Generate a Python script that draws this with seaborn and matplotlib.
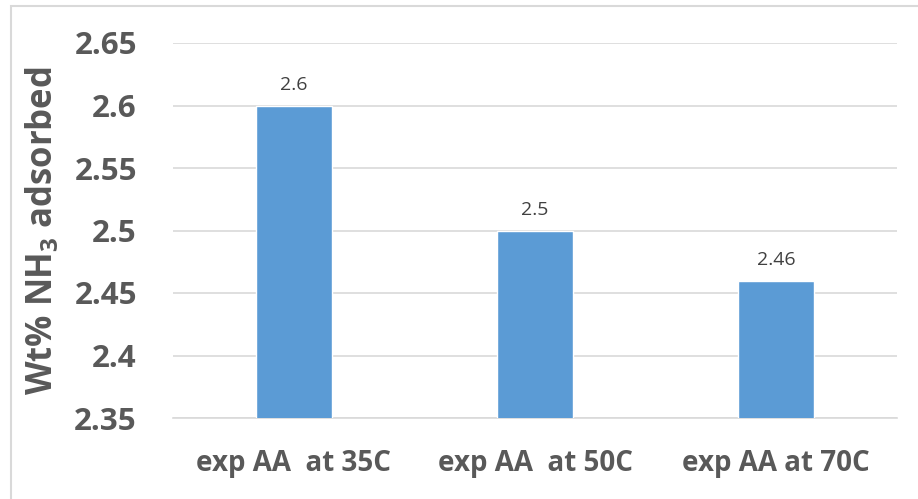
import matplotlib
matplotlib.use("Agg")
import matplotlib.pyplot as plt
from matplotlib.patches import Rectangle
import seaborn as sns
import pandas as pd

categories = ["exp AA  at 35C", "exp AA  at 50C", "exp AA at 70C"]
values = [2.6, 2.5, 2.46]
value_labels = ["2.6", "2.5", "2.46"]
yticks = [2.35, 2.4, 2.45, 2.5, 2.55, 2.6, 2.65]
ytick_labels = ["2.35", "2.4", "2.45", "2.5", "2.55", "2.6", "2.65"]

sns.set_theme(style="white")
plt.rcParams["font.family"] = ["Open Sans", "DejaVu Sans"]
plt.rcParams["mathtext.fontset"] = "custom"
plt.rcParams["mathtext.rm"] = "Open Sans"
plt.rcParams["mathtext.bf"] = "Open Sans:bold"

W, H = 918, 499
fig = plt.figure(figsize=(W / 100, H / 100), dpi=100)
fig.patch.set_facecolor("white")

# outer chart-area frame
fig.patches.append(Rectangle((11 / W, -0.05), 1.2, (H - 6) / H + 0.05,
                             transform=fig.transFigure, fill=False,
                             edgecolor="#d9d9d9", linewidth=1.5))

ax = fig.add_axes([173 / W, 81 / H, (897 - 173) / W, (418 - 43) / H])

df = pd.DataFrame({"cat": categories, "val": values})
sns.barplot(data=df, x="cat", y="val", color="#5b9bd5", saturation=1,
            width=0.315, ax=ax, zorder=3)

ax.set_ylim(2.35, 2.65)
ax.set_yticks(yticks)
ax.set_yticklabels(ytick_labels, fontsize=22.5, fontweight="bold", color="#595959")
ax.tick_params(axis="y", length=0, pad=26)
ax.tick_params(axis="x", length=0, pad=22)
for lab in ax.get_xticklabels():
    lab.set_fontsize(20)
    lab.set_fontweight("bold")
    lab.set_color("#595959")

ax.grid(axis="y", color="#d9d9d9", linewidth=1.2, zorder=0)
ax.set_axisbelow(True)
for side in ["top", "right", "left"]:
    ax.spines[side].set_visible(False)
ax.spines["bottom"].set_color("#d9d9d9")
ax.spines["bottom"].set_linewidth(1.2)

for i, (v, t) in enumerate(zip(values, value_labels)):
    ax.annotate(t, (i, v), xytext=(0, 8), textcoords="offset points",
                ha="center", va="bottom", fontsize=14, color="#404040")

ax.set_xlabel("")
ax.set_ylabel("Wt% NH$_\\mathbf{3}$ adsorbed", fontsize=25, fontweight="bold",
              color="#595959")
ax.yaxis.set_label_coords(-0.155, 0.5)

fig.savefig("out.png", dpi=100, facecolor="white")
